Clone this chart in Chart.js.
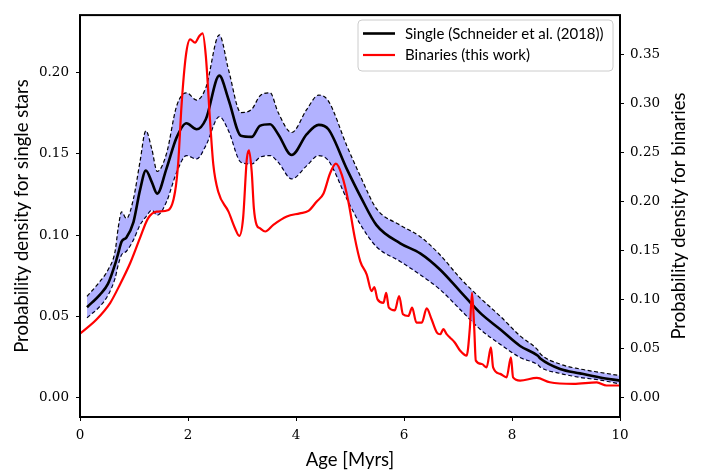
<!DOCTYPE html>
<html>
<head>
<meta charset="utf-8">
<script src="https://cdn.jsdelivr.net/npm/chart.js@4.4.0/dist/chart.umd.min.js"></script>
<style>
  html, body { margin: 0; padding: 0; background: #fff; }
  #wrap { width: 702px; height: 471px; }
</style>
</head>
<body>
<div id="wrap"><canvas id="chart" width="702" height="471"></canvas></div>
<script>
// ages (Myr) for the single star curve and its band
const singleAge = [0.13, 0.37, 0.52, 0.65, 0.71, 0.77, 0.86, 0.99, 1.11, 1.22, 1.33, 1.43, 1.6, 1.79, 1.97, 2.16, 2.33, 2.58, 2.75, 2.98, 3.18, 3.33, 3.52, 3.67, 3.92, 4.2, 4.42, 4.6, 4.94, 5.2, 5.49, 5.93, 6.3, 6.67, 7.04, 7.41, 7.78, 8.15, 8.48, 8.53, 8.89, 9.26, 9.63, 10.0];
const singleMean = [0.0555, 0.0633, 0.070, 0.082, 0.089, 0.0959, 0.0985, 0.108, 0.1275, 0.1398, 0.1326, 0.1255, 0.1408, 0.1602, 0.1689, 0.1652, 0.1714, 0.1983, 0.1836, 0.1612, 0.1605, 0.1673, 0.1683, 0.1622, 0.1493, 0.1622, 0.1679, 0.1652, 0.1408, 0.1234, 0.1061, 0.0949, 0.0887, 0.0786, 0.0653, 0.052, 0.0419, 0.0316, 0.0255, 0.0237, 0.0174, 0.0147, 0.0122, 0.0102];
const singleHigh = [0.0622, 0.0714, 0.0786, 0.090, 0.105, 0.1143, 0.1102, 0.1224, 0.145, 0.1643, 0.153, 0.1392, 0.150, 0.1796, 0.1877, 0.1832, 0.1908, 0.2234, 0.202, 0.1755, 0.1775, 0.1857, 0.1877, 0.1755, 0.1632, 0.1775, 0.1863, 0.1826, 0.1551, 0.1357, 0.1163, 0.1061, 0.099, 0.0877, 0.0734, 0.0612, 0.050, 0.0378, 0.029, 0.0266, 0.0204, 0.0174, 0.0153, 0.0133];
const singleLow = [0.049, 0.0561, 0.063, 0.0734, 0.082, 0.0878, 0.090, 0.097, 0.1061, 0.1112, 0.1153, 0.1122, 0.1204, 0.1387, 0.149, 0.1469, 0.1551, 0.173, 0.1643, 0.1449, 0.1438, 0.1479, 0.149, 0.1449, 0.1346, 0.1428, 0.149, 0.1459, 0.1224, 0.1061, 0.0928, 0.0837, 0.0755, 0.0663, 0.0541, 0.0419, 0.0327, 0.0245, 0.0200, 0.0184, 0.0147, 0.0122, 0.0106, 0.0082];

// binaries curve (right axis)
const binAge = [0.0, 0.31, 0.56, 0.74, 0.93, 1.11, 1.26, 1.42, 1.64, 1.76, 1.82, 1.88, 1.96, 2.04, 2.13, 2.21, 2.27, 2.33, 2.41, 2.47, 2.56, 2.75, 2.87, 2.95, 3.02, 3.09, 3.13, 3.18, 3.22, 3.27, 3.33, 3.43, 3.58, 3.83, 4.07, 4.23, 4.38, 4.51, 4.63, 4.74, 4.85, 4.97, 5.09, 5.19, 5.31, 5.40, 5.45, 5.51, 5.62, 5.67, 5.72, 5.83, 5.91, 5.98, 6.08, 6.15, 6.23, 6.33, 6.42, 6.51, 6.61, 6.67, 6.73, 6.79, 6.85, 6.94, 7.04, 7.16, 7.22, 7.26, 7.30, 7.33, 7.44, 7.53, 7.61, 7.65, 7.78, 7.90, 7.98, 8.02, 8.15, 8.46, 8.70, 9.14, 9.57, 9.75, 10.0];
const binDensity = [0.065, 0.0797, 0.0965, 0.1152, 0.1372, 0.1626, 0.1829, 0.1897, 0.1915, 0.210, 0.2405, 0.2982, 0.349, 0.3659, 0.3625, 0.3693, 0.372, 0.349, 0.2812, 0.2372, 0.210, 0.1897, 0.1728, 0.165, 0.1829, 0.2439, 0.2524, 0.2304, 0.1931, 0.1762, 0.1728, 0.1694, 0.1762, 0.1847, 0.188, 0.1904, 0.1999, 0.2083, 0.2287, 0.2388, 0.227, 0.1999, 0.1626, 0.1389, 0.1254, 0.1084, 0.1125, 0.100, 0.0965, 0.1067, 0.0915, 0.0888, 0.1034, 0.0848, 0.083, 0.0915, 0.0762, 0.0762, 0.0908, 0.0797, 0.066, 0.0643, 0.0695, 0.0644, 0.061, 0.0559, 0.0475, 0.0424, 0.0711, 0.1067, 0.0711, 0.0373, 0.0339, 0.0305, 0.0508, 0.0305, 0.0238, 0.0203, 0.0407, 0.0203, 0.017, 0.0197, 0.0152, 0.0136, 0.0152, 0.0119, 0.0119];

const ageTicks = [0, 2, 4, 6, 8, 10];
const singleTicks = [0, 0.05, 0.10, 0.15, 0.20];
const binTicks = [0, 0.05, 0.10, 0.15, 0.20, 0.25, 0.30, 0.35];

const legendLabels = ["Single (Schneider et al. (2018))", "Binaries (this work)"];
const rightTitle = "Probability density for binaries";

function pts(xs, ys) {
  return xs.map(function (x, i) { return { x: x, y: ys[i] }; });
}

const tickFont = { family: "DejaVu Serif", size: 13.5 };
const titleFont = { family: "Lato", size: 18.5 };

// box around the plot, legend and right title (reads bottom-to-top like the left one)
const framePlugin = {
  id: "frame",
  afterDatasetsDraw: function (chart) {
    const a = chart.chartArea;
    const ctx = chart.ctx;
    ctx.save();
    ctx.strokeStyle = "#000";
    ctx.lineWidth = 2;
    ctx.strokeRect(a.left, a.top, a.right - a.left, a.bottom - a.top);
    ctx.restore();
  },
  afterDraw: function (chart) {
    const ctx = chart.ctx;
    const a = chart.chartArea;
    ctx.save();
    ctx.translate(679, (a.top + a.bottom) / 2);
    ctx.rotate(-Math.PI / 2);
    ctx.font = "18.5px Lato";
    ctx.fillStyle = "#000";
    ctx.textAlign = "center";
    ctx.textBaseline = "middle";
    ctx.fillText(rightTitle, 0, 0);
    ctx.restore();

    const bx = 358, by = 20, bw = 255, bh = 51;
    ctx.save();
    ctx.beginPath();
    ctx.roundRect(bx, by, bw, bh, 4);
    ctx.fillStyle = "rgba(255,255,255,0.8)";
    ctx.fill();
    ctx.strokeStyle = "#cccccc";
    ctx.lineWidth = 1;
    ctx.stroke();
    const colors = ["#000000", "#ff0000"];
    const ys = [33.5, 55];
    ctx.font = "15px Lato";
    ctx.textBaseline = "middle";
    ctx.textAlign = "left";
    for (let i = 0; i < 2; i++) {
      ctx.beginPath();
      ctx.moveTo(363, ys[i]);
      ctx.lineTo(395, ys[i]);
      ctx.strokeStyle = colors[i];
      ctx.lineWidth = i === 0 ? 2.6 : 2.2;
      ctx.stroke();
      ctx.fillStyle = "#000";
      ctx.fillText(legendLabels[i], 405, ys[i] + 0.5);
    }
    ctx.restore();
  }
};

const ctx = document.getElementById("chart").getContext("2d");
const chart = new Chart(ctx, {
  type: "line",
  data: {
    datasets: [
      {
        label: legendLabels[1],
        data: pts(binAge, binDensity),
        yAxisID: "y1",
        borderColor: "#ff0000",
        borderWidth: 2.2,
        pointRadius: 0,
        cubicInterpolationMode: "monotone",
        fill: false,
      },
      {
        label: legendLabels[0],
        data: pts(singleAge, singleMean),
        yAxisID: "y",
        borderColor: "#000000",
        borderWidth: 2.6,
        pointRadius: 0,
        cubicInterpolationMode: "monotone",
        fill: false,
      },
      {
        label: "upper",
        data: pts(singleAge, singleHigh),
        yAxisID: "y",
        borderColor: "#000000",
        borderWidth: 1.2,
        borderDash: [4, 2.5],
        pointRadius: 0,
        cubicInterpolationMode: "monotone",
        backgroundColor: "rgba(0,0,255,0.3)",
        fill: "+1",
      },
      {
        label: "lower",
        data: pts(singleAge, singleLow),
        yAxisID: "y",
        borderColor: "#000000",
        borderWidth: 1.2,
        borderDash: [4, 2.5],
        pointRadius: 0,
        cubicInterpolationMode: "monotone",
        fill: false,
      },
    ],
  },
  options: {
    responsive: false,
    devicePixelRatio: 1,
    animation: false,
    events: [],
    layout: { padding: { top: 12, left: 0, right: 0, bottom: 0 } },
    plugins: { legend: { display: false }, tooltip: { enabled: false } },
    scales: {
      x: {
        type: "linear",
        min: 0,
        max: 10,
        afterBuildTicks: function (s) { s.ticks = ageTicks.map(function (v) { return { value: v }; }); },
        afterFit: function (s) { s.height = 54; },
        ticks: { font: tickFont, color: "#000", padding: 6, maxRotation: 0, callback: function (v) { return String(v); } },
        grid: { drawOnChartArea: false, drawTicks: true, tickLength: 4, color: "#000", lineWidth: 1 },
        border: { display: false },
        title: { display: true, text: "Age [Myrs]", font: titleFont, color: "#000", padding: { top: 0, bottom: 0 } },
      },
      y: {
        type: "linear",
        position: "left",
        min: -0.0122,
        max: 0.2356,
        afterBuildTicks: function (s) { s.ticks = singleTicks.map(function (v) { return { value: v }; }); },
        afterFit: function (s) { s.width = 80; },
        ticks: { font: tickFont, color: "#000", padding: 7, callback: function (v) { return v.toFixed(2); } },
        grid: { drawOnChartArea: false, drawTicks: true, tickLength: 4, color: "#000", lineWidth: 1 },
        border: { display: false },
        title: { display: true, text: "Probability density for single stars", font: titleFont, color: "#000", padding: { top: 11, bottom: 0 } },
      },
      y1: {
        type: "linear",
        position: "right",
        min: -0.0203,
        max: 0.3907,
        afterBuildTicks: function (s) { s.ticks = binTicks.map(function (v) { return { value: v }; }); },
        afterFit: function (s) { s.width = 82; },
        ticks: { font: tickFont, color: "#000", padding: 6, callback: function (v) { return v.toFixed(2); } },
        grid: { drawOnChartArea: false, drawTicks: true, tickLength: 4, color: "#000", lineWidth: 1 },
        border: { display: false },
        title: { display: false },
      },
    },
  },
  plugins: [framePlugin],
});
</script>
</body>
</html>
